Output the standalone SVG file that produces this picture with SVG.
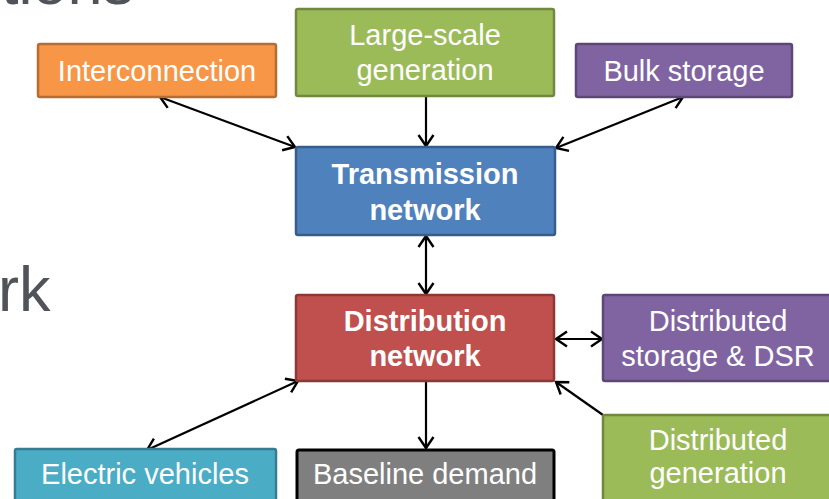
<svg xmlns="http://www.w3.org/2000/svg" width="829" height="499" viewBox="0 0 829 499">
<style>
.bg{font-family:"Liberation Sans",Arial,sans-serif;font-size:63px;fill:#505358}
.t{font-family:"Liberation Sans",Arial,sans-serif;font-size:29px;fill:#ffffff;text-anchor:middle}
.b{font-weight:bold}
.box{stroke-width:2.5}
.conn line{stroke:#000;stroke-width:2.2;fill:none}
</style>
<defs>
<marker id="ah" markerUnits="userSpaceOnUse" markerWidth="20" markerHeight="20" refX="0" refY="0" viewBox="-13 -10 15 20" orient="auto-start-reverse" overflow="visible">
<path d="M-11,-7.5 L0,0 L-11,7.5" fill="none" stroke="#000" stroke-width="2.4"/>
</marker>
</defs>
<rect width="829" height="499" fill="#ffffff"/>
<text class="bg" x="1" y="4">tions</text>
<text class="bg" x="-2" y="311">rk</text>
<g class="conn">
<line x1="160" y1="97" x2="295" y2="147" marker-start="url(#ah)" marker-end="url(#ah)"/>
<line x1="426" y1="97" x2="426" y2="146" marker-end="url(#ah)"/>
<line x1="683" y1="97" x2="556" y2="148" marker-start="url(#ah)" marker-end="url(#ah)"/>
<line x1="426" y1="236" x2="426" y2="294" marker-start="url(#ah)" marker-end="url(#ah)"/>
<line x1="556" y1="339" x2="602" y2="339" marker-start="url(#ah)" marker-end="url(#ah)"/>
<line x1="147" y1="450" x2="298" y2="381" marker-start="url(#ah)" marker-end="url(#ah)"/>
<line x1="426" y1="381" x2="426" y2="448" marker-end="url(#ah)"/>
<line x1="603" y1="415" x2="556" y2="382" marker-end="url(#ah)"/>
</g>
<g id="interconnection">
<rect class="box" x="38" y="44" width="238" height="53" rx="2" fill="#F79646" stroke="#B66D31"/>
<text class="t" x="157" y="81">Interconnection</text>
</g>
<g id="large-scale-generation">
<rect class="box" x="296" y="9" width="258" height="87" rx="2" fill="#9BBB59" stroke="#71893F"/>
<text class="t" x="425" y="45">Large-scale</text>
<text class="t" x="425" y="80">generation</text>
</g>
<g id="bulk-storage">
<rect class="box" x="576" y="44" width="216" height="53" rx="2" fill="#8064A2" stroke="#5C4776"/>
<text class="t" x="684" y="81">Bulk storage</text>
</g>
<g id="transmission-network">
<rect class="box" x="296" y="147" width="259" height="88" rx="2" fill="#4F81BD" stroke="#385D8A"/>
<text class="t b" x="425" y="184">Transmission</text>
<text class="t b" x="425" y="220">network</text>
</g>
<g id="distribution-network">
<rect class="box" x="296" y="295" width="258" height="86" rx="2" fill="#C0504D" stroke="#8C3836"/>
<text class="t b" x="425" y="331">Distribution</text>
<text class="t b" x="425" y="366">network</text>
</g>
<g id="distributed-storage-dsr">
<rect class="box" x="603" y="295" width="232" height="86" rx="2" fill="#8064A2" stroke="#5C4776"/>
<text class="t" x="718" y="331">Distributed</text>
<text class="t" x="718" y="366">storage &amp; DSR</text>
</g>
<g id="electric-vehicles">
<rect class="box" x="15" y="449" width="261" height="60" rx="2" fill="#4BACC6" stroke="#357D91"/>
<text class="t" x="145" y="484">Electric vehicles</text>
</g>
<g id="baseline-demand">
<rect x="297" y="450" width="257" height="60" rx="2" fill="#7F7F7F" stroke="#000" stroke-width="3"/>
<text class="t" x="425" y="484">Baseline demand</text>
</g>
<g id="distributed-generation">
<rect class="box" x="603" y="415" width="232" height="95" rx="2" fill="#9BBB59" stroke="#71893F"/>
<text class="t" x="718" y="450">Distributed</text>
<text class="t" x="718" y="483">generation</text>
</g>
</svg>
